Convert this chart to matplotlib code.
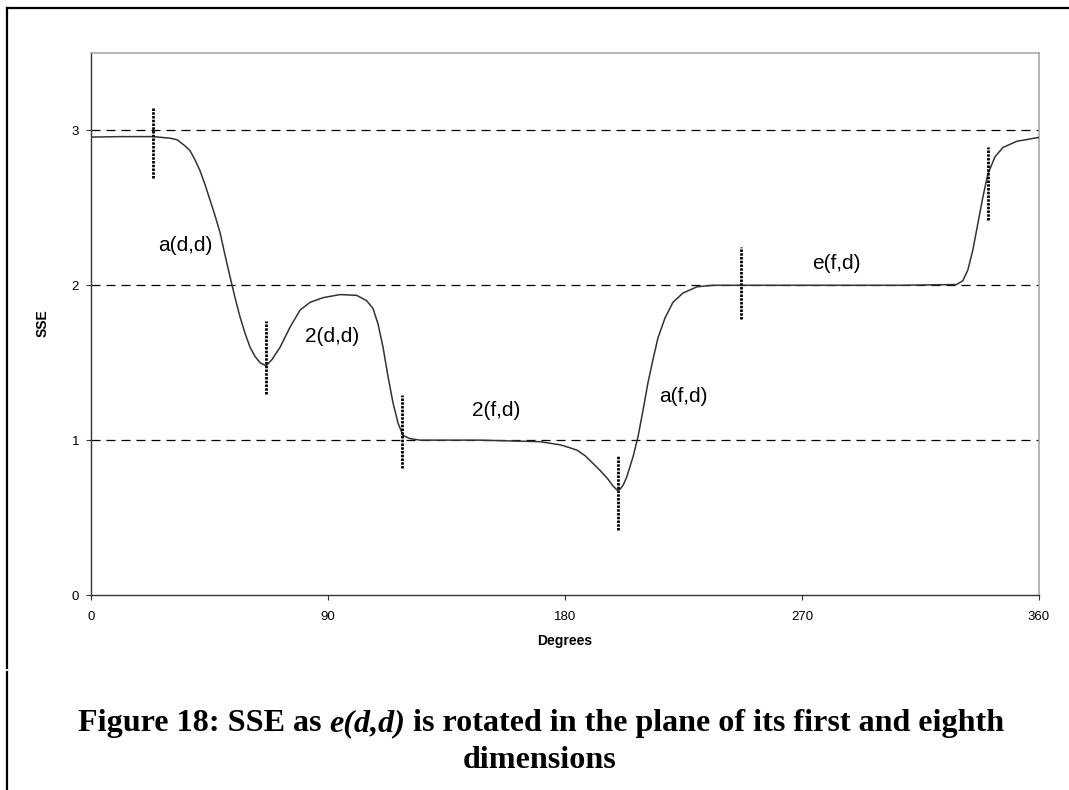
import matplotlib
matplotlib.use("Agg")
import matplotlib.pyplot as plt
from matplotlib.lines import Line2D

# ---------- data ----------
degrees = [0, 11, 23.5, 30, 32.7, 35.7, 37.6, 39.5, 41.4, 43.3, 45.2, 47.1, 49.0,
           50.9, 52.8, 54.7, 56.6, 58.5, 60.4, 62.3, 64.2, 66.5, 68.7, 71.8, 75.6,
           79.4, 83.2, 88.1, 94.6, 100.9, 104.7, 107.1, 109.0, 110.9, 112.8, 114.7,
           116.6, 118.5, 121.1, 124.9, 136.3, 147.7, 159.1, 170.5, 178.1, 181.1,
           184.6, 187.6, 190.6, 193.3, 196.0, 198.2, 199.8, 201.0, 202.1, 203.4,
           205.8, 207.7, 209.6, 211.5, 213.4, 215.3, 218.0, 221.0, 224.8, 230.1,
           236.2, 247.0, 269.2, 307.2, 328.7, 331.1, 333.0, 334.9, 336.8, 338.7,
           340.6, 343.3, 346.3, 351.6, 360]
sse = [2.957, 2.96, 2.96, 2.95, 2.94, 2.90, 2.87, 2.81, 2.74, 2.65, 2.55, 2.45, 2.34,
       2.195, 2.055, 1.92, 1.795, 1.69, 1.60, 1.54, 1.50, 1.48, 1.52, 1.60, 1.73,
       1.84, 1.89, 1.92, 1.94, 1.935, 1.90, 1.85, 1.75, 1.60, 1.41, 1.24,
       1.11, 1.03, 1.01, 1.0, 1.0, 1.0, 0.995, 0.99, 0.97, 0.955,
       0.935, 0.90, 0.85, 0.805, 0.755, 0.705, 0.677, 0.685, 0.71, 0.76,
       0.89, 1.02, 1.19, 1.37, 1.52, 1.66, 1.79, 1.89, 1.95, 1.99,
       2.0, 2.0, 2.0, 2.0, 2.005, 2.03, 2.10, 2.23, 2.40, 2.57,
       2.72, 2.83, 2.89, 2.93, 2.955]

# dotted vertical markers: position, bottom, top
marker_deg = [23.5, 66.5, 118, 200, 247, 340.5]
marker_low = [2.69, 1.30, 0.82, 0.42, 1.78, 2.42]
marker_high = [3.15, 1.77, 1.29, 0.90, 2.25, 2.89]

# segment labels
seg_labels = ["a(d,d)", "2(d,d)", "2(f,d)", "a(f,d)", "e(f,d)"]
seg_x = [36.0, 91.5, 154.0, 224.8, 283.2]
seg_y = [2.26, 1.67, 1.19, 1.28, 2.14]

x_ticks = [0, 90, 180, 270, 360]
y_ticks = [0, 1, 2, 3]
grid_levels = [1, 2, 3]

W, H = 1069, 790

plt.rcParams['font.family'] = ['Liberation Sans', 'DejaVu Sans']

fig = plt.figure(figsize=(W / 100, H / 100), dpi=100)
ax = fig.add_axes([91 / W, 1 - 595 / H, (1039 - 91) / W, (595 - 53) / H])

# dashed reference lines
for lvl in grid_levels:
    ax.axhline(lvl, color='black', lw=0.9, linestyle=(0, (7.2, 4.8)), zorder=1)

ax.plot(degrees, sse, color='#333333', lw=1.1, zorder=3,
        solid_joinstyle='round')

for xm, lo, hi in zip(marker_deg, marker_low, marker_high):
    ax.plot([xm, xm], [lo, hi], color='black', lw=2.0,
            linestyle=(0, (0.9, 0.45)), solid_capstyle='butt',
            dash_capstyle='butt', zorder=4)

for s, x, y in zip(seg_labels, seg_x, seg_y):
    ax.text(x, y, s, fontsize=15, ha='center', va='center', color='black')

ax.set_xlim(0, 360)
ax.set_ylim(0, 3.5)
ax.set_xticks(x_ticks)
ax.set_yticks(y_ticks)
ax.tick_params(axis='both', direction='out', length=3.6, width=0.8,
               color='#333333', labelsize=9.5)
ax.tick_params(axis='x', pad=8)
ax.tick_params(axis='y', pad=5)

for side in ['top', 'right']:
    ax.spines[side].set_color('#a0a0a0')
    ax.spines[side].set_linewidth(1.1)
for side in ['left', 'bottom']:
    ax.spines[side].set_color('#333333')
    ax.spines[side].set_linewidth(1.0)

fig.text(43 / W, 1 - 323 / H, "SSE", rotation=90, fontsize=10, fontweight='bold',
         ha='center', va='center')
fig.text(565 / W, 1 - 641 / H, "Degrees", fontsize=10, fontweight='bold',
         ha='center', va='center')

# outer frame (left and top edges only)
fig.add_artist(Line2D([7 / W, 7 / W], [1 - 7.5 / H, 1 - 668 / H],
                      transform=fig.transFigure, color='black', lw=1.6))
fig.add_artist(Line2D([7 / W, 7 / W], [1 - 672 / H, 0],
                      transform=fig.transFigure, color='black', lw=1.6))
fig.add_artist(Line2D([7 / W, 1], [1 - 7.5 / H, 1 - 7.5 / H],
                      transform=fig.transFigure, color='black', lw=1.6))

# caption, with the italic part placed piece by piece
cap_size = 23.1
serif = ['Liberation Serif', 'DejaVu Serif']
parts = [("Figure 18: SSE as", 'normal'), ("e(d,d)", 'italic'),
         ("is rotated in the plane of its first and eighth", 'normal')]
renderer = fig.canvas.get_renderer()
texts = [fig.text(0, 1 - 731.5 / H, s, fontsize=cap_size, family=serif,
                  fontweight='bold', style=st, va='baseline')
         for s, st in parts]
widths = [t.get_window_extent(renderer).width for t in texts]
space = cap_size * 0.25 * 100 / 72
total = sum(widths) + space * (len(widths) - 1)
xpos = 541 - total / 2
for t, w in zip(texts, widths):
    t.set_x(xpos / W)
    xpos += w + space
fig.text(540 / W, 1 - 768 / H, "dimensions", fontsize=cap_size, family=serif,
         fontweight='bold', ha='center', va='baseline')

fig.savefig("out.png", dpi=100)
